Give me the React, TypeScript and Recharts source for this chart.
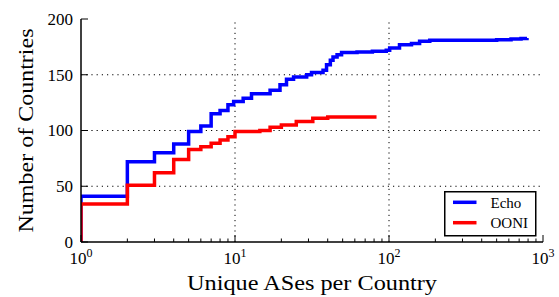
import React from 'react';
import { LineChart, Line, XAxis, YAxis, ReferenceLine, Legend } from 'recharts';

// Echo: cumulative number of countries vs unique ASes per country
const echoX = [1, 1, 2, 3, 4, 5, 6, 7, 8, 9, 9.8, 11.3, 12.8, 16.9, 19.6, 21.6, 24, 29.2, 31.4, 37.3, 39.3, 41.6, 43.3, 46, 49.2, 62, 78, 96, 101, 117, 140, 158, 184, 500, 620, 720, 787];
const echoY = [0, 41, 72, 80, 88, 99, 104, 115, 118, 123, 126, 129, 133, 136, 141, 146, 148, 150, 152, 154, 159, 163, 166, 168, 170, 170.5, 171, 172, 174, 177, 178, 180, 181, 181.5, 182, 182.5, 183];

// OONI
const ooniX = [1, 1, 2, 3, 4, 5, 6, 7, 8, 9, 10, 14.5, 16.9, 20, 25, 32, 40, 83];
const ooniY = [0, 34, 51, 62, 74, 83, 85.5, 88.5, 91.5, 94.5, 99, 100, 103, 105, 108, 111, 112, 112];

const seriesNames = ['Echo', 'OONI'];
const seriesColors = ['#0000ff', '#ff0000'];

const xMajorTicks = [1, 10, 100, 1000];
const xMinorTicks = [2, 3, 4, 5, 6, 7, 8, 9, 20, 30, 40, 50, 60, 70, 80, 90, 200, 300, 400, 500, 600, 700, 800, 900];
const xDomain = [1, 1000];
const yTicks = [0, 50, 100, 150, 200];
const yDomain = [0, 200];
const xGridLines = [10, 100];
const yGridLines = [50, 100, 150];

const xLabel = 'Unique ASes per Country';
const yLabel = 'Number of Countries';

const FONT = "'Liberation Serif', 'Times New Roman', serif";
const allXTicks = [...xMajorTicks, ...xMinorTicks].sort((a, b) => a - b);

const echoData = echoX.map((x, i) => ({ x, y: echoY[i] }));
const ooniData = ooniX.map((x, i) => ({ x, y: ooniY[i] }));

const BottomTick = (props: any) => {
  const { x, y, payload } = props;
  const v = payload.value;
  const major = xMajorTicks.includes(v);
  const exp = Math.round(Math.log10(v));
  return (
    <g>
      <line x1={x} x2={x} y1={y} y2={y - (major ? 7 : 3.5)} stroke="#000" strokeWidth={1} />
      {major && (
        <text x={x} y={y + 22} textAnchor="middle" fontFamily={FONT} fontSize={17} fill="#000">
          <tspan>10</tspan>
          <tspan dy={-7} fontSize={12}>{exp}</tspan>
        </text>
      )}
    </g>
  );
};

const TopTick = (props: any) => {
  const { x, y, payload } = props;
  const major = xMajorTicks.includes(payload.value);
  return <line x1={x} x2={x} y1={y} y2={y + (major ? 7 : 3.5)} stroke="#000" strokeWidth={1} />;
};

const LeftTick = (props: any) => {
  const { x, y, payload } = props;
  return (
    <g>
      <line x1={x} x2={x + 7} y1={y} y2={y} stroke="#000" strokeWidth={1} />
      <text x={x - 8} y={y} dy="0.34em" textAnchor="end" fontFamily={FONT} fontSize={17} fill="#000">
        {payload.value}
      </text>
    </g>
  );
};

const RightTick = (props: any) => {
  const { x, y } = props;
  return <line x1={x} x2={x - 7} y1={y} y2={y} stroke="#000" strokeWidth={1} />;
};

const XAxisLabel = (props: any) => {
  const vb = props.viewBox || {};
  return (
    <text
      x={vb.x + vb.width / 2}
      y={vb.y + 48}
      textAnchor="middle"
      fontFamily={FONT}
      fontSize={21}
      textLength={250}
      lengthAdjust="spacingAndGlyphs"
      fill="#000"
    >
      {xLabel}
    </text>
  );
};

const YAxisLabel = (props: any) => {
  const vb = props.viewBox || {};
  const cx = 33;
  const cy = vb.y + vb.height / 2;
  return (
    <text
      x={cx}
      y={cy}
      transform={`rotate(-90, ${cx}, ${cy})`}
      textAnchor="middle"
      fontFamily={FONT}
      fontSize={21}
      textLength={204}
      lengthAdjust="spacingAndGlyphs"
      fill="#000"
    >
      {yLabel}
    </text>
  );
};

const LegendBox = () => (
  <svg width={93} height={46} style={{ display: 'block' }}>
    <rect x={0.75} y={0.75} width={91} height={44} fill="#fff" stroke="#000" strokeWidth={1.5} />
    {seriesNames.map((name, i) => (
      <g key={name}>
        <line x1={9} x2={32.5} y1={11.3 + i * 20.4} y2={11.3 + i * 20.4} stroke={seriesColors[i]} strokeWidth={3.5} />
        <text x={46.5} y={16.7 + i * 20.6} fontFamily={FONT} fontSize={15} fill="#000">
          {name}
        </text>
      </g>
    ))}
  </svg>
);

export default function App() {
  return (
    <div style={{ position: 'absolute', left: 0, top: 0, background: '#fff' }}>
      <LineChart width={559} height={297} margin={{ top: 19, right: 16, bottom: 0, left: 0 }}>
        <XAxis
          xAxisId="bottom"
          dataKey="x"
          type="number"
          scale="log"
          domain={xDomain}
          allowDataOverflow
          ticks={allXTicks}
          interval={0}
          tick={BottomTick}
          tickSize={0}
          tickMargin={0}
          tickLine={false}
          axisLine={{ stroke: '#000', strokeWidth: 1.5 }}
          height={55}
          label={XAxisLabel}
        />
        <XAxis
          xAxisId="top"
          orientation="top"
          dataKey="x"
          type="number"
          scale="log"
          domain={xDomain}
          allowDataOverflow
          ticks={allXTicks}
          interval={0}
          tick={TopTick}
          tickSize={0}
          tickMargin={0}
          tickLine={false}
          axisLine={{ stroke: '#000', strokeWidth: 1.5 }}
          height={0}
        />
        <YAxis
          yAxisId="left"
          type="number"
          domain={yDomain}
          ticks={yTicks}
          interval={0}
          tick={LeftTick}
          tickSize={0}
          tickMargin={0}
          tickLine={false}
          axisLine={{ stroke: '#000', strokeWidth: 1.5 }}
          width={81}
          label={YAxisLabel}
        />
        <YAxis
          yAxisId="right"
          orientation="right"
          type="number"
          domain={yDomain}
          ticks={yTicks}
          interval={0}
          tick={RightTick}
          tickSize={0}
          tickMargin={0}
          tickLine={false}
          axisLine={{ stroke: '#000', strokeWidth: 1.5 }}
          width={0}
        />
        {xGridLines.map((v) => (
          <ReferenceLine key={'gx' + v} xAxisId="bottom" yAxisId="left" x={v} stroke="#000" strokeWidth={1} strokeDasharray="1.2 4" />
        ))}
        {yGridLines.map((v) => (
          <ReferenceLine key={'gy' + v} xAxisId="bottom" yAxisId="left" y={v} stroke="#000" strokeWidth={1} strokeDasharray="1.2 4" />
        ))}
        <Line
          xAxisId="bottom"
          yAxisId="left"
          data={echoData}
          dataKey="y"
          name={seriesNames[0]}
          type="stepAfter"
          stroke={seriesColors[0]}
          strokeWidth={3.5}
          dot={false}
          activeDot={false}
          isAnimationActive={false}
        />
        <Line
          xAxisId="bottom"
          yAxisId="left"
          data={ooniData}
          dataKey="y"
          name={seriesNames[1]}
          type="stepAfter"
          stroke={seriesColors[1]}
          strokeWidth={3.5}
          dot={false}
          activeDot={false}
          isAnimationActive={false}
        />
        <Legend
          layout="horizontal"
          verticalAlign="middle"
          align="center"
          wrapperStyle={{ position: 'absolute', left: 444, top: 191, width: 93, height: 46, margin: 0 }}
          content={LegendBox}
        />
      </LineChart>
    </div>
  );
}
